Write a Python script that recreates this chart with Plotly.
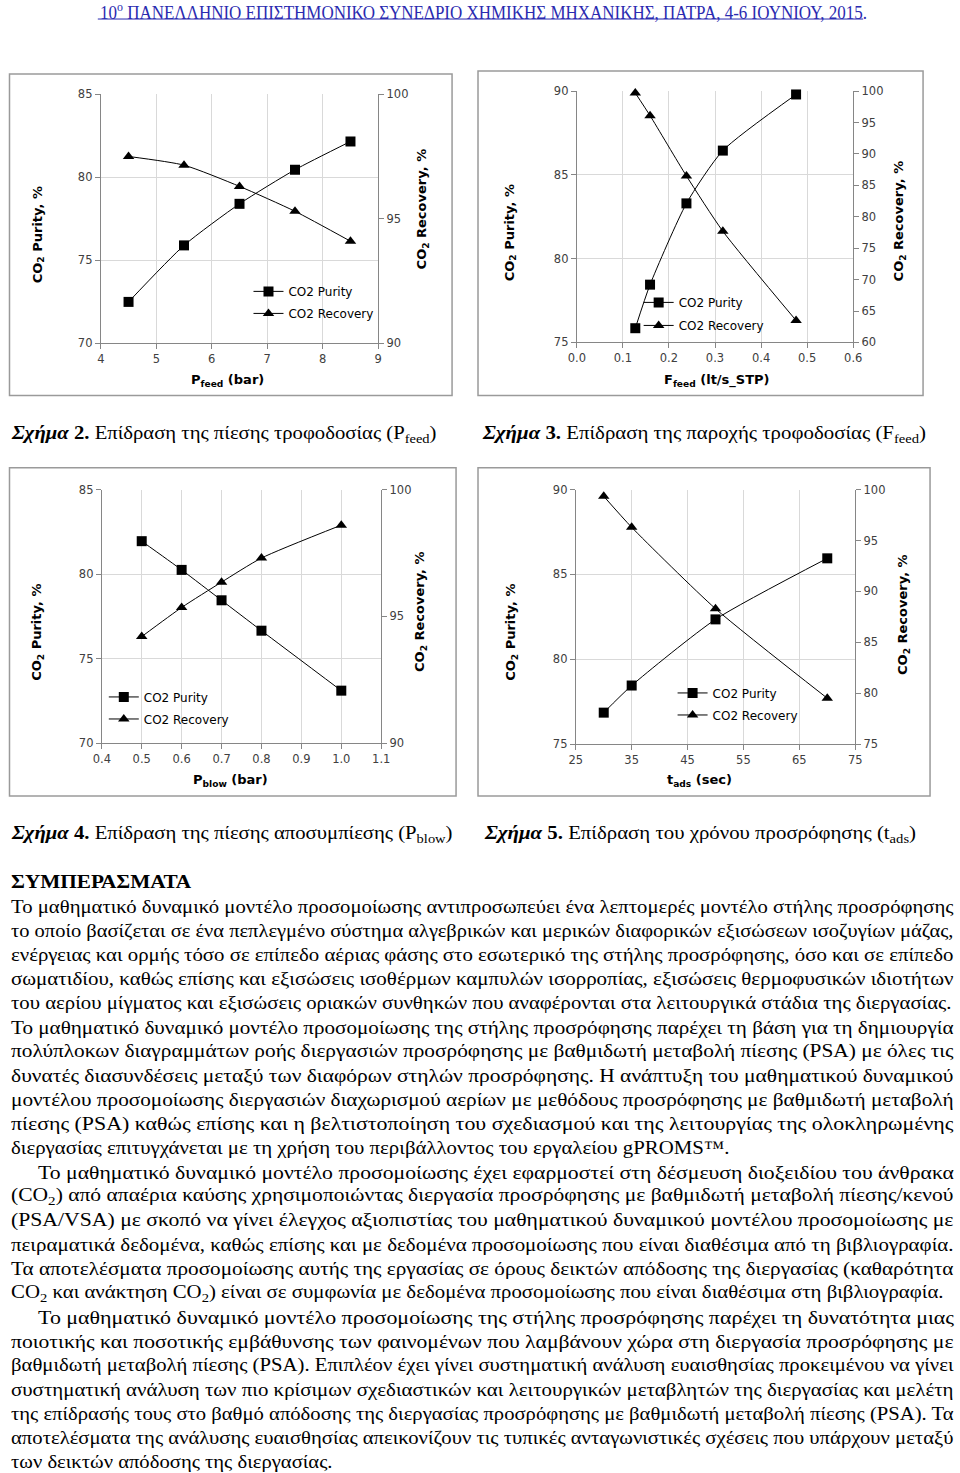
import json
import plotly.graph_objects as go

W, H = 960, 1473

# ---------------- data ----------------
# Fig. 2 : effect of feed pressure
p_feed = [4.5, 5.5, 6.5, 7.5, 8.5]
purity_pfeed = [72.5, 75.9, 78.4, 80.45, 82.15]
recovery_pfeed = [97.5, 97.15, 96.3, 95.3, 94.1]

# Fig. 3 : effect of feed flow
f_feed = [0.127, 0.159, 0.238, 0.317, 0.476]
purity_ffeed = [75.85, 78.45, 83.3, 86.45, 89.8]
recovery_ffeed = [99.7, 96.1, 86.5, 77.7, 63.5]

# Fig. 4 : effect of blowdown pressure
p_blow = [0.5, 0.6, 0.7, 0.8, 1.0]
purity_pblow = [81.95, 80.25, 78.45, 76.65, 73.1]
recovery_pblow = [94.2, 95.35, 96.35, 97.3, 98.6]

# Fig. 5 : effect of adsorption time
t_ads = [30, 35, 50, 70]
purity_tads = [76.85, 78.45, 82.35, 85.95]
recovery_tads = [99.35, 96.3, 88.3, 79.5]

series_names = ["CO2 Purity", "CO2 Recovery"]

x_titles = ["P<sub>feed</sub> (bar)", "F<sub>feed</sub> (lt/s_STP)",
            "P<sub>blow</sub> (bar)", "t<sub>ads</sub> (sec)"]
y_left_title = "CO<sub>2</sub> Purity, %"
y_right_title = "CO<sub>2</sub> Recovery, %"

header_text = ("10<sup>ο</sup> ΠΑΝΕΛΛΗΝΙΟ ΕΠΙΣΤΗΜΟΝΙΚΟ ΣΥΝΕΔΡΙΟ ΧΗΜΙΚΗΣ "
               "ΜΗΧΑΝΙΚΗΣ, ΠΑΤΡΑ, 4-6 ΙΟΥΝΙΟΥ, 2015.")

captions = [
    "<b><i>Σχήμα</i> 2.</b> Επίδραση της πίεσης τροφοδοσίας (P<sub>feed</sub>)",
    "<b><i>Σχήμα</i> 3.</b> Επίδραση της παροχής τροφοδοσίας (F<sub>feed</sub>)",
    "<b><i>Σχήμα</i> 4.</b> Επίδραση της πίεσης αποσυμπίεσης (P<sub>blow</sub>)",
    "<b><i>Σχήμα</i> 5.</b> Επίδραση του χρόνου προσρόφησης (t<sub>ads</sub>)",
]

heading = "<b>ΣΥΜΠΕΡΑΣΜΑΤΑ</b>"

body_lines = [
    "Το μαθηματικό δυναμικό μοντέλο προσομοίωσης αντιπροσωπεύει ένα λεπτομερές μοντέλο στήλης προσρόφησης",
    "το οποίο βασίζεται σε ένα πεπλεγμένο σύστημα αλγεβρικών και μερικών διαφορικών εξισώσεων ισοζυγίων μάζας,",
    "ενέργειας και ορμής τόσο σε επίπεδο αέριας φάσης στο εσωτερικό της στήλης προσρόφησης, όσο και σε επίπεδο",
    "σωματιδίου, καθώς επίσης και εξισώσεις ισοθέρμων καμπυλών ισορροπίας, εξισώσεις θερμοφυσικών ιδιοτήτων",
    "του αερίου μίγματος και εξισώσεις οριακών συνθηκών που αναφέρονται στα λειτουργικά στάδια της διεργασίας.",
    "Το μαθηματικό δυναμικό μοντέλο προσομοίωσης της στήλης προσρόφησης παρέχει τη βάση για τη δημιουργία",
    "πολύπλοκων διαγραμμάτων ροής διεργασιών προσρόφησης με βαθμιδωτή μεταβολή πίεσης (PSA) με όλες τις",
    "δυνατές διασυνδέσεις μεταξύ των διαφόρων στηλών προσρόφησης. Η ανάπτυξη του μαθηματικού δυναμικού",
    "μοντέλου προσομοίωσης διεργασιών διαχωρισμού αερίων με μεθόδους προσρόφησης με βαθμιδωτή μεταβολή",
    "πίεσης (PSA) καθώς επίσης και η βελτιστοποίηση του σχεδιασμού και της λειτουργίας της ολοκληρωμένης",
    "διεργασίας επιτυγχάνεται με τη χρήση του περιβάλλοντος του εργαλείου gPROMS™.",
    "Το μαθηματικό δυναμικό μοντέλο προσομοίωσης έχει εφαρμοστεί στη δέσμευση διοξειδίου του άνθρακα",
    "(CO<sub>2</sub>) από απαέρια καύσης χρησιμοποιώντας διεργασία προσρόφησης με βαθμιδωτή μεταβολή πίεσης/κενού",
    "(PSA/VSA) με σκοπό να γίνει έλεγχος αξιοπιστίας του μαθηματικού δυναμικού μοντέλου προσομοίωσης με",
    "πειραματικά δεδομένα, καθώς επίσης και με δεδομένα προσομοίωσης που είναι διαθέσιμα από τη βιβλιογραφία.",
    "Τα αποτελέσματα προσομοίωσης αυτής της εργασίας σε όρους δεικτών απόδοσης της διεργασίας (καθαρότητα",
    "CO<sub>2</sub> και ανάκτηση CO<sub>2</sub>) είναι σε συμφωνία με δεδομένα προσομοίωσης που είναι διαθέσιμα στη βιβλιογραφία.",
    "Το μαθηματικό δυναμικό μοντέλο προσομοίωσης της στήλης προσρόφησης παρέχει τη δυνατότητα μιας",
    "ποιοτικής και ποσοτικής εμβάθυνσης των φαινομένων που λαμβάνουν χώρα στη διεργασία προσρόφησης με",
    "βαθμιδωτή μεταβολή πίεσης (PSA). Επιπλέον έχει γίνει συστηματική ανάλυση ευαισθησίας προκειμένου να γίνει",
    "συστηματική ανάλυση των πιο κρίσιμων σχεδιαστικών και λειτουργικών μεταβλητών της διεργασίας και μελέτη",
    "της επίδρασής τους στο βαθμό απόδοσης της διεργασίας προσρόφησης με βαθμιδωτή μεταβολή πίεσης (PSA). Τα",
    "αποτελέσματα της ανάλυσης ευαισθησίας απεικονίζουν τις τυπικές ανταγωνιστικές σχέσεις που υπάρχουν μεταξύ",
    "των δεικτών απόδοσης της διεργασίας.",
]

# ---------------- layout helpers ----------------
# In the photographed page the plotting paper occupies 944 x 1457 px starting
# 8 px from the top-left corner; positions below are picture pixels.
OFF = 8.0
PW, PH = 944.0, 1457.0


def fx(p):
    return max(0.0, (p - OFF) / PW)


def fy(p):
    return 1 - max(0.0, (p - OFF) / PH)


CHART_FONT = "DejaVu Sans"
TEXT_FONT = "Liberation Serif"
GRID = "#d9d9d9"
AXL = "#868686"
TICKC = "#404040"

charts = [
    dict(x=p_feed, pur=purity_pfeed, rec=recovery_pfeed,
         xr=[4, 9], xd=1, xf="d", yl=[70, 85], yr=[90, 100],
         dx=(100, 378), dy=(95, 344), box=(8.5, 75, 452, 396),
         lt=(37, 235), rt=(422, 210), xt=(227, 381),
         leg=(288, 292, 314)),
    dict(x=f_feed, pur=purity_ffeed, rec=recovery_ffeed,
         xr=[0, 0.6], xd=0.1, xf=".1f", yl=[75, 90], yr=[60, 100],
         dx=(577, 854), dy=(92, 343), box=(478, 72, 924, 396),
         lt=(510, 233), rt=(900, 222), xt=(718, 381),
         leg=(679, 303, 326)),
    dict(x=p_blow, pur=purity_pblow, rec=recovery_pblow,
         xr=[0.4, 1.1], xd=0.1, xf=".1f", yl=[70, 85], yr=[90, 100],
         dx=(101, 381), dy=(490, 743), box=(8.5, 468, 456, 796),
         lt=(37, 632), rt=(421, 612), xt=(230, 780),
         leg=(143, 697, 719)),
    dict(x=t_ads, pur=purity_tads, rec=recovery_tads,
         xr=[25, 75], xd=10, xf="d", yl=[75, 90], yr=[75, 100],
         dx=(576, 856), dy=(490, 744), box=(478, 468, 931, 796),
         lt=(512, 632), rt=(905, 615), xt=(700, 780),
         leg=(713, 693, 715)),
]

fig = go.Figure()
layout = dict(
    width=W, height=H, margin=dict(l=0, r=0, t=0, b=0),
    paper_bgcolor="white", plot_bgcolor="white", showlegend=True,
)
shapes = []
annotations = []
fit = {}  # annotation index -> target width in px


def add_ann(text, x, y, size, family, xanchor="left", color="black",
            angle=0, width_px=None):
    annotations.append(dict(
        text=text, x=fx(x), y=fy(y), xref="paper", yref="paper",
        xanchor=xanchor, yanchor="middle", align="left" if xanchor == "left" else "center",
        showarrow=False, textangle=angle,
        font=dict(size=size, family=family, color=color)))
    if width_px is not None:
        fit[len(annotations) - 1] = round(width_px, 1)


tickfont = dict(family=CHART_FONT, size=11.5, color=TICKC)

for k, c in enumerate(charts):
    xs = "" if k == 0 else str(k + 1)
    yl_n, yr_n = 2 * k + 1, 2 * k + 2
    yl_s = "" if yl_n == 1 else str(yl_n)
    xid, ylid, yrid = "x" + xs, "y" + yl_s, "y" + str(yr_n)

    layout["xaxis" + xs] = dict(
        domain=[fx(c["dx"][0]), fx(c["dx"][1])], anchor=ylid,
        range=c["xr"], dtick=c["xd"], tick0=c["xr"][0], tickformat=c["xf"],
        showgrid=True, gridcolor=GRID, gridwidth=1, zeroline=False,
        showline=True, linecolor=AXL, linewidth=1,
        ticks="outside", ticklen=5, tickcolor=AXL, tickfont=tickfont)
    layout["yaxis" + yl_s] = dict(
        domain=[fy(c["dy"][1]), fy(c["dy"][0])], anchor=xid,
        range=c["yl"], dtick=5, showgrid=True, gridcolor=GRID, zeroline=False,
        showline=True, linecolor=AXL, linewidth=1,
        ticks="outside", ticklen=5, tickcolor=AXL, tickfont=tickfont)
    layout["yaxis" + str(yr_n)] = dict(
        overlaying=ylid, anchor=xid, side="right",
        range=c["yr"], dtick=5, showgrid=False, zeroline=False,
        showline=True, linecolor=AXL, linewidth=1,
        ticks="outside", ticklen=5, tickcolor=AXL, tickfont=tickfont)

    lg1 = "legend" + ("" if yl_n == 1 else str(yl_n))
    lg2 = "legend" + str(yr_n)
    fig.add_trace(go.Scatter(
        x=c["x"], y=c["pur"], xaxis=xid, yaxis=ylid, name=series_names[0],
        mode="lines+markers", legend=lg1, cliponaxis=False,
        line=dict(color="black", width=1, shape="spline", smoothing=0.6),
        marker=dict(symbol="square", size=10, color="black")))
    fig.add_trace(go.Scatter(
        x=c["x"], y=c["rec"], xaxis=xid, yaxis=yrid, name=series_names[1],
        mode="lines+markers", legend=lg2, cliponaxis=False,
        line=dict(color="black", width=1, shape="spline", smoothing=0.6),
        marker=dict(symbol="triangle-up", size=10, color="black")))

    tx, r1, r2 = c["leg"]
    for lg, ry in ((lg1, r1), (lg2, r2)):
        layout[lg] = dict(x=fx(tx - 40), y=fy(ry), xanchor="left", yanchor="middle",
                          bgcolor="rgba(0,0,0,0)", borderwidth=0,
                          font=dict(family=CHART_FONT, size=12, color="black"))

    b = c["box"]
    shapes.append(dict(type="rect", xref="paper", yref="paper",
                       x0=fx(b[0]), x1=fx(b[2]), y0=fy(b[3]), y1=fy(b[1]),
                       line=dict(color="#9a9a9a", width=1.5)))

    add_ann("<b>" + y_left_title + "</b>", c["lt"][0], c["lt"][1], 13, CHART_FONT,
            xanchor="center", angle=-90)
    add_ann("<b>" + y_right_title + "</b>", c["rt"][0], c["rt"][1], 13, CHART_FONT,
            xanchor="center", angle=-90)
    add_ann("<b>" + x_titles[k] + "</b>", c["xt"][0], c["xt"][1], 13, CHART_FONT,
            xanchor="center")

# header
add_ann(header_text, 97, 12, 18, TEXT_FONT, color="#2a2ab0", width_px=767)
shapes.append(dict(type="line", xref="paper", yref="paper",
                   x0=fx(97), x1=fx(864), y0=fy(20), y1=fy(20),
                   line=dict(color="#2a2ab0", width=1)))

# captions
cap_pos = [(8.5, 433, 434), (480, 923, 434), (8.5, 449, 834), (482, 913, 834)]
for cap, (x0, x1, yy) in zip(captions, cap_pos):
    add_ann(cap, x0, yy, 19, TEXT_FONT, width_px=x1 - x0)

# heading + body
RIGHT = 951
add_ann(heading, 8.5, 881, 19, TEXT_FONT, width_px=180)
indented = {11, 17}
ends = {4: 949, 10: 727, 16: 941, 23: 330}
for i, line in enumerate(body_lines):
    x0 = 35 if i in indented else 8.5
    x1 = ends.get(i, RIGHT)
    add_ann(line, x0, 906 + 24.13 * i, 19, TEXT_FONT, width_px=x1 - x0)

layout["shapes"] = shapes
layout["annotations"] = annotations
fig.update_layout(**layout)

post = (
    "var gd=document.getElementById('{plot_id}');"
    "function zap(e){if(e){e.style.margin='0';e.style.padding='0';}}"
    "[document.documentElement,document.body,gd.parentElement,gd].forEach(zap);"
    "document.body.style.overflow='hidden';"
    "var fit=" + json.dumps({str(k): v for k, v in fit.items()}) + ";"
    "gd.querySelectorAll('g.annotation').forEach(function(g){"
    "var i=g.getAttribute('data-index');if(!(i in fit))return;"
    "var t=g.querySelector('text.annotation-text');if(!t)return;"
    "t.setAttribute('textLength',fit[i]);t.setAttribute('lengthAdjust','spacingAndGlyphs');});"
)

fig.write_html("out.html", post_script=post, config={"displayModeBar": False})
